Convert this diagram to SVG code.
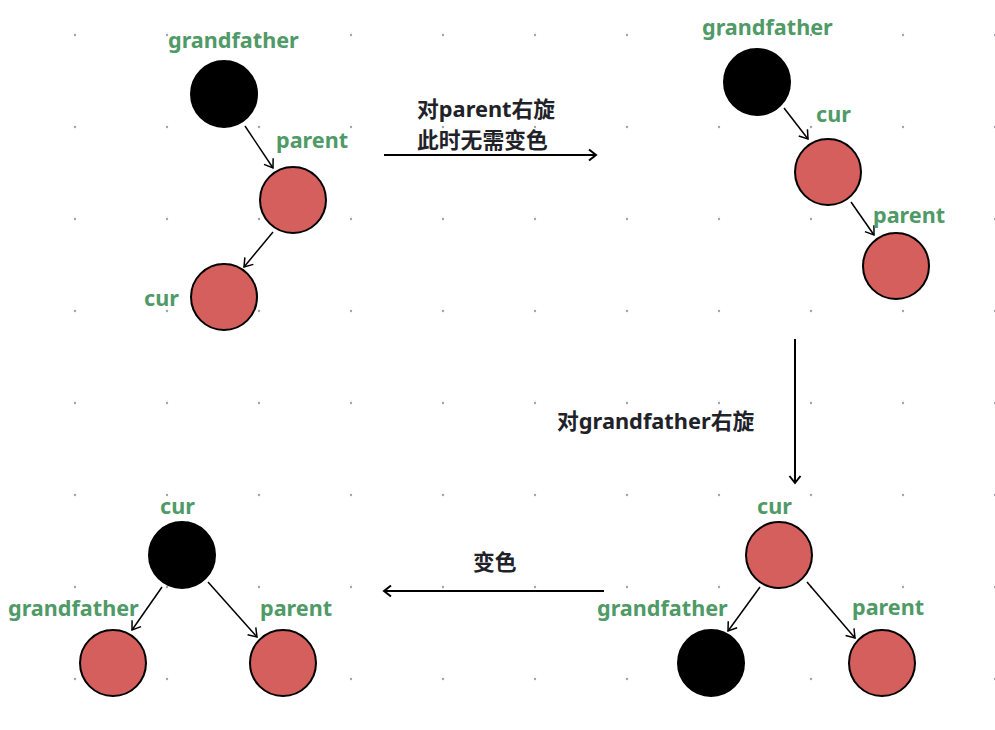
<svg xmlns="http://www.w3.org/2000/svg" width="995" height="730" viewBox="0 0 995 730">
<style>
.lbl{font-family:"Noto Sans","Noto Sans CJK SC",sans-serif;font-weight:bold;font-size:21.6px;fill:#4f9a67}
.cap{font-family:"Noto Sans","Noto Sans CJK SC",sans-serif;font-weight:bold;font-size:21.8px;fill:#1f2329}
.red{fill:#d45f5d;stroke:#000;stroke-width:2}
.blk{fill:#000;stroke:#000;stroke-width:2}
.edge{stroke:#000;stroke-width:1.5;fill:none;marker-end:url(#ah)}
.big{stroke:#000;stroke-width:2;fill:none;marker-end:url(#ah2)}
.dot{fill:#a0a3ad}
</style>
<defs>
<marker id="ah" markerUnits="userSpaceOnUse" markerWidth="14" markerHeight="14" refX="11" refY="7" orient="auto">
<path d="M3,1.5 L11,7 L3,12.5" fill="none" stroke="#000" stroke-width="1.5"/>
</marker>
<marker id="ah2" markerUnits="userSpaceOnUse" markerWidth="14" markerHeight="14" refX="11" refY="7" orient="auto">
<path d="M4,1.5 L11,7 L4,12.5" fill="none" stroke="#000" stroke-width="2"/>
</marker>
<pattern id="grid" x="75" y="35" width="92" height="92" patternUnits="userSpaceOnUse">
<circle cx="0" cy="0" r="1.2" class="dot"/>
<circle cx="92" cy="0" r="1.2" class="dot"/>
<circle cx="0" cy="92" r="1.2" class="dot"/>
<circle cx="92" cy="92" r="1.2" class="dot"/>
</pattern>
</defs>
<rect width="995" height="730" fill="#fff"/>
<rect width="995" height="730" fill="url(#grid)"/>

<g id="connectors">
<line class="edge" x1="245" y1="126" x2="273" y2="168"/>
<line class="edge" x1="273" y1="232" x2="244" y2="267"/>
<line class="big" x1="384" y1="155" x2="596" y2="155"/>
<line class="edge" x1="784" y1="108" x2="808" y2="139"/>
<line class="edge" x1="851" y1="202" x2="874" y2="235"/>
<line class="big" x1="795" y1="339" x2="795" y2="483"/>
<line class="big" x1="604" y1="591" x2="384" y2="591"/>
<line class="edge" x1="760" y1="587" x2="728" y2="631"/>
<line class="edge" x1="807" y1="582" x2="855" y2="638"/>
<line class="edge" x1="162" y1="587" x2="132" y2="630"/>
<line class="edge" x1="208" y1="582" x2="257" y2="637"/>
</g>

<g id="captions">
<text class="cap" x="417" y="117">对parent右旋</text>
<text class="cap" x="417" y="148">此时无需变色</text>
<text class="cap" x="557" y="429">对grandfather右旋</text>
<text class="cap" x="473" y="570">变色</text>
</g>

<g id="s1-grandfather"><circle class="blk" cx="224" cy="94" r="33"/><text class="lbl" x="168" y="48">grandfather</text></g>
<g id="s1-parent"><circle class="red" cx="293" cy="200" r="33"/><text class="lbl" x="276" y="148">parent</text></g>
<g id="s1-cur"><circle class="red" cx="224" cy="297" r="33"/><text class="lbl" x="144" y="306">cur</text></g>

<g id="s2-grandfather"><circle class="blk" cx="757" cy="82" r="33"/><text class="lbl" x="702" y="35">grandfather</text></g>
<g id="s2-cur"><circle class="red" cx="828" cy="172" r="33"/><text class="lbl" x="816" y="122">cur</text></g>
<g id="s2-parent"><circle class="red" cx="896" cy="266" r="33"/><text class="lbl" x="873" y="223">parent</text></g>

<g id="s3-cur"><circle class="red" cx="779" cy="555" r="33"/><text class="lbl" x="757" y="514">cur</text></g>
<g id="s3-grandfather"><circle class="blk" cx="711" cy="663" r="33"/><text class="lbl" x="597" y="616">grandfather</text></g>
<g id="s3-parent"><circle class="red" cx="882" cy="663" r="33"/><text class="lbl" x="852" y="615">parent</text></g>

<g id="s4-cur"><circle class="blk" cx="182" cy="555" r="33"/><text class="lbl" x="160" y="514">cur</text></g>
<g id="s4-grandfather"><circle class="red" cx="113" cy="663" r="33"/><text class="lbl" x="8" y="616">grandfather</text></g>
<g id="s4-parent"><circle class="red" cx="283" cy="663" r="33"/><text class="lbl" x="260" y="616">parent</text></g>
</svg>
